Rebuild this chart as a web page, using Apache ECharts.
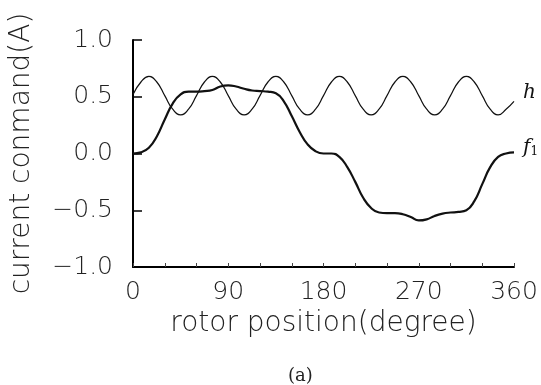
<!DOCTYPE html>
<html>
<head>
<meta charset="utf-8">
<script src="https://cdn.jsdelivr.net/npm/echarts@6/dist/echarts.min.js"></script>
<style>
  html, body { margin: 0; padding: 0; background: #fff; }
  #chart { width: 541px; height: 385px; }
</style>
</head>
<body>
<div id="chart"></div>
<script>
  // rotor position, degrees (7.5 deg steps)
  var angles = [0, 7.5, 15, 22.5, 30, 37.5, 45, 52.5, 60, 67.5, 75, 82.5, 90,
    97.5, 105, 112.5, 120, 127.5, 135, 142.5, 150, 157.5, 165, 172.5, 180,
    187.5, 195, 202.5, 210, 217.5, 225, 232.5, 240, 247.5, 255, 262.5, 270,
    277.5, 285, 292.5, 300, 307.5, 315, 322.5, 330, 337.5, 345, 352.5, 360];

  // thin curve "h"
  var hValues = [0.52, 0.63, 0.68, 0.63, 0.51, 0.39, 0.34, 0.39, 0.51, 0.63, 0.68, 0.63,
    0.51, 0.39, 0.34, 0.39, 0.51, 0.63, 0.68, 0.63, 0.51, 0.39, 0.34, 0.39,
    0.51, 0.63, 0.68, 0.63, 0.51, 0.39, 0.34, 0.39, 0.51, 0.63, 0.68, 0.63,
    0.51, 0.39, 0.34, 0.39, 0.51, 0.63, 0.68, 0.63, 0.51, 0.39, 0.34, 0.39, 0.46];

  // bold curve "f1"
  var f1Values = [0.00, 0.01, 0.05, 0.15, 0.30, 0.44, 0.52, 0.545, 0.545, 0.55, 0.56, 0.59,
    0.60, 0.59, 0.57, 0.555, 0.55, 0.545, 0.53, 0.46, 0.33, 0.19, 0.08, 0.02,
    0.00, 0.00, -0.03, -0.12, -0.25, -0.39, -0.48, -0.52, -0.525, -0.525, -0.535, -0.56,
    -0.59, -0.58, -0.55, -0.53, -0.52, -0.515, -0.50, -0.42, -0.27, -0.12, -0.03, 0.00, 0.01];

  var xTicks = [0, 90, 180, 270, 360];
  var yTicks = [-1.0, -0.5, 0.0, 0.5, 1.0];

  function pairs(ys) {
    return angles.map(function (a, i) { return [a, ys[i]]; });
  }

  var chart = echarts.init(document.getElementById('chart'));
  var font = '"DejaVu Sans", sans-serif';
  var serif = '"DejaVu Serif", serif';

  var option = {
    backgroundColor: '#fff',
    animation: false,
    title: {
      text: '(a)',
      left: 283,
      top: 362,
      textStyle: { fontFamily: serif, fontWeight: 'normal', fontSize: 18, color: '#222' }
    },
    grid: { left: 132, right: 27, top: 40, bottom: 118 },
    xAxis: {
      type: 'value',
      min: 0,
      max: 360,
      interval: 30,
      name: 'rotor position(degree)',
      nameLocation: 'middle',
      nameGap: 40,
      nameTextStyle: { fontFamily: font, fontWeight: 200, fontSize: 28, color: '#222' },
      splitLine: { show: false },
      axisLine: { onZero: false, lineStyle: { color: '#000', width: 2 } },
      axisTick: { inside: true, length: 4, lineStyle: { color: '#444', width: 1 } },
      axisLabel: {
        margin: 13,
        fontFamily: font,
        fontWeight: 200,
        fontSize: 25,
        color: '#222',
        formatter: function (v) { return xTicks.indexOf(v) >= 0 ? String(v) : ''; }
      }
    },
    yAxis: {
      type: 'value',
      min: -1,
      max: 1,
      interval: 0.5,
      name: 'current conmand(A)',
      nameLocation: 'middle',
      nameGap: 97,
      nameTextStyle: { fontFamily: font, fontWeight: 200, fontSize: 28, color: '#222' },
      splitLine: { show: false },
      axisLine: { onZero: false, lineStyle: { color: '#000', width: 2 } },
      axisTick: { inside: true, length: 9, lineStyle: { color: '#000', width: 1.5 } },
      axisLabel: {
        margin: 20,
        fontFamily: font,
        fontWeight: 200,
        fontSize: 25,
        color: '#222',
        formatter: function (v) {
          var t = yTicks.filter(function (y) { return Math.abs(y - v) < 1e-9; })[0];
          if (t === undefined) return '';
          return (t < 0 ? '\u2212' : '') + Math.abs(t).toFixed(1);
        }
      }
    },
    series: [
      {
        name: 'h',
        type: 'line',
        data: pairs(hValues),
        smooth: 0.5,
        symbol: 'none',
        lineStyle: { color: '#111', width: 1.2 },
        endLabel: {
          show: true,
          distance: 9,
          offset: [0, -8],
          formatter: 'h',
          fontFamily: serif,
          fontStyle: 'italic',
          fontSize: 20,
          color: '#111'
        }
      },
      {
        name: 'f1',
        type: 'line',
        data: pairs(f1Values),
        smooth: 0.5,
        symbol: 'none',
        lineStyle: { color: '#111', width: 2.2 },
        endLabel: {
          show: true,
          distance: 9,
          offset: [0, -5],
          formatter: '{f|f}{s|1}',
          rich: {
            f: { fontFamily: serif, fontStyle: 'italic', fontSize: 20, color: '#111' },
            s: { fontFamily: serif, fontSize: 12, color: '#111', padding: [9, 0, 0, 0] }
          }
        }
      }
    ]
  };

  chart.setOption(option);
</script>
</body>
</html>
